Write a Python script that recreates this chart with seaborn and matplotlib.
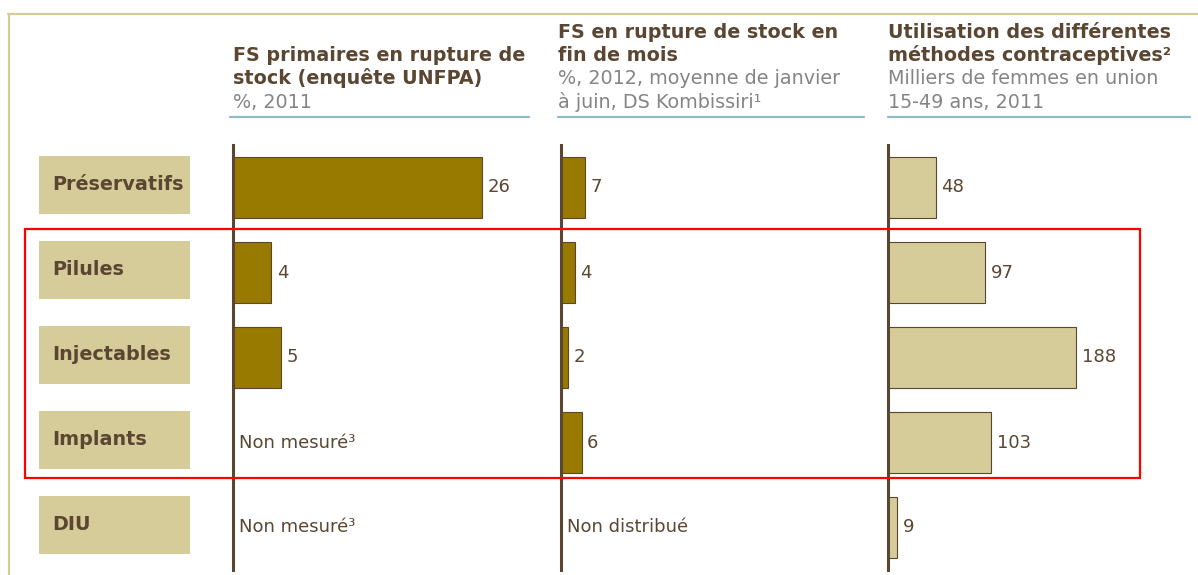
import numpy as np
import pandas as pd
import seaborn as sns
import matplotlib.pyplot as plt
import matplotlib.transforms as mtransforms
from matplotlib.patches import Rectangle
from matplotlib.lines import Line2D

# data
methods = ["Préservatifs", "Pilules", "Injectables", "Implants", "DIU"]
rupture_unfpa = [26, 4, 5, np.nan, np.nan]
rupture_kombissiri = [7, 4, 2, 6, np.nan]
utilisation = [48, 97, 188, 103, 9]
notes_unfpa = ["", "", "", "Non mesuré³", "Non mesuré³"]
notes_kombissiri = ["", "", "", "", "Non distribué"]

titles = [
    (["FS primaires en rupture de", "stock (enquête UNFPA)"], ["%, 2011"]),
    (["FS en rupture de stock en", "fin de mois"], ["%, 2012, moyenne de janvier", "à juin, DS Kombissiri¹"]),
    (["Utilisation des différentes", "méthodes contraceptives²"], ["Milliers de femmes en union", "15-49 ans, 2011"]),
]

sns.set_theme(style="white")
plt.rcParams["font.family"] = ["DejaVu Sans"]

BROWN = "#5a4631"
GOLD = "#987a00"
TAN = "#d6cc9a"
GREY = "#858585"
BLUE = "#8fb8c9"

W, H = 1198, 575
fig = plt.figure(figsize=(W / 100, H / 100), dpi=100)


def fx(x):
    return x / W


def fy(y):
    return 1 - y / H


# frame
fig.add_artist(Line2D([fx(8), fx(1198)], [fy(14), fy(14)], color=TAN, lw=1.6))
fig.add_artist(Line2D([fx(9), fx(9)], [fy(14), fy(575)], color=TAN, lw=1.6))

panels = [
    (233, 300, 31.3, rupture_unfpa, notes_unfpa, GOLD),
    (561, 300, 87.5, rupture_kombissiri, notes_kombissiri, GOLD),
    (888, 300, 300, utilisation, None, TAN),
]
header_x = [233, 558, 888]
underline = [(230, 529), (558, 864), (888, 1190)]

axes = []
for i, (x0, w, xmax, vals, notes, col) in enumerate(panels):
    ax = fig.add_axes([fx(x0), fy(570), w / W, 425 / H])
    df = pd.DataFrame({"method": methods, "value": vals})
    sns.barplot(data=df, x="value", y="method", order=methods, orient="h",
                color=col, saturation=1, width=0.72, edgecolor=BROWN,
                linewidth=0.8, errorbar=None, ax=ax)
    ax.set_xlim(0, xmax)
    ax.set_ylim(4.5, -0.5)
    ax.set_xlabel("")
    ax.set_ylabel("")
    ax.set_xticks([])
    ax.set_yticks([])
    for s in ["top", "right", "bottom"]:
        ax.spines[s].set_visible(False)
    ax.spines["left"].set_color(BROWN)
    ax.spines["left"].set_linewidth(2.2)
    ax.patch.set_alpha(0)
    for j, v in enumerate(vals):
        if not np.isnan(v):
            ax.annotate(f"{v:g}", (v, j), xytext=(4, 0), textcoords="offset points",
                        va="center", ha="left", fontsize=13, color=BROWN)
        elif notes is not None and notes[j]:
            ax.annotate(notes[j], (0, j), xytext=(4, 0), textcoords="offset points",
                        va="center", ha="left", fontsize=13, color=BROWN)
    axes.append(ax)

    # header
    t_lines, s_lines = titles[i]
    lines = [(t, "bold", BROWN) for t in t_lines] + [(s, "normal", GREY) for s in s_lines]
    n = len(lines)
    for k, (txt, wt, c) in enumerate(lines):
        base = 108 - (n - 1 - k) * 23.5
        fig.text(fx(header_x[i]), fy(base), txt, ha="left", va="baseline",
                 fontsize=13.8, fontweight=wt, color=c)
    u0, u1 = underline[i]
    fig.add_artist(Line2D([fx(u0), fx(u1)], [fy(117), fy(117)], color=BLUE, lw=1.6))

# category boxes
tr = mtransforms.blended_transform_factory(fig.transFigure, axes[0].transData)
for j, m in enumerate(methods):
    fig.add_artist(Rectangle((fx(39), j - 0.34 - 0.03), fx(190) - fx(39), 0.68,
                             transform=tr, facecolor=TAN, edgecolor="none"))
    fig.text(fx(52), j - 0.03, m, transform=tr, ha="left", va="center",
             fontsize=13.8, fontweight="bold", color=BROWN)

# highlight box
fig.add_artist(Rectangle((fx(25), fy(478)), fx(1140) - fx(25), fy(229) - fy(478),
                         facecolor="none", edgecolor="red", lw=1.6))

fig.savefig("out.png", dpi=100)
